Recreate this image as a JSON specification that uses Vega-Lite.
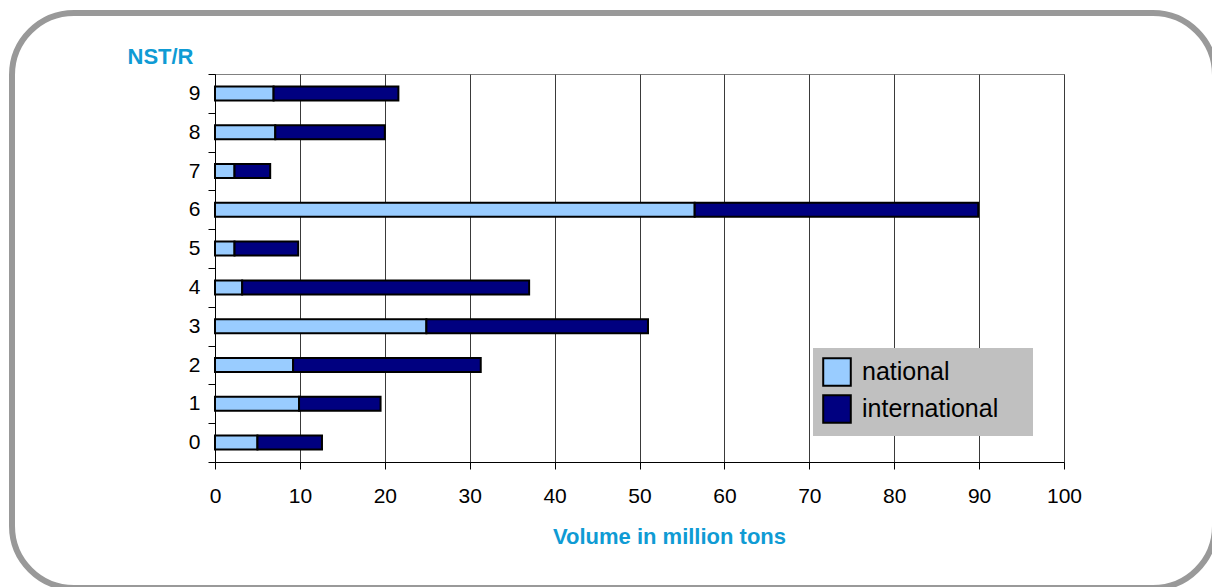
{
  "$schema": "https://vega.github.io/schema/vega-lite/v6.json",
  "autosize": {"type": "none"},
  "padding": {"left": 215, "top": 74, "right": 148, "bottom": 125},
  "width": 849,
  "height": 388,
  "background": "#ffffff",
  "config": {
    "font": "Liberation Sans",
    "view": {"stroke": "#808080", "strokeWidth": 1},
    "axis": {
      "labelFont": "Liberation Sans",
      "labelColor": "#000000",
      "labelFontSize": 21,
      "domainColor": "#000000",
      "tickColor": "#000000",
      "tickSize": 7,
      "titleFont": "Liberation Sans",
      "titleFontSize": 22,
      "titleFontWeight": "bold",
      "titleColor": "#0f9bd4"
    }
  },
  "layer": [
    {
      "data": {"values": [{}]},
      "mark": {
        "type": "rect",
        "fill": null,
        "filled": false,
        "stroke": "#999999",
        "strokeWidth": 6,
        "cornerRadius": 62
      },
      "encoding": {
        "x": {"value": -203},
        "x2": {"value": 1000},
        "y": {"value": -61},
        "y2": {"value": 514}
      }
    },
    {
      "data": {
        "values": [
          {"group": "9", "flow": "national", "volume": 6.9},
          {"group": "9", "flow": "international", "volume": 14.7},
          {"group": "8", "flow": "national", "volume": 7.1},
          {"group": "8", "flow": "international", "volume": 12.9},
          {"group": "7", "flow": "national", "volume": 2.3},
          {"group": "7", "flow": "international", "volume": 4.2},
          {"group": "6", "flow": "national", "volume": 56.5},
          {"group": "6", "flow": "international", "volume": 33.4},
          {"group": "5", "flow": "national", "volume": 2.3},
          {"group": "5", "flow": "international", "volume": 7.5},
          {"group": "4", "flow": "national", "volume": 3.2},
          {"group": "4", "flow": "international", "volume": 33.8},
          {"group": "3", "flow": "national", "volume": 24.9},
          {"group": "3", "flow": "international", "volume": 26.1},
          {"group": "2", "flow": "national", "volume": 9.2},
          {"group": "2", "flow": "international", "volume": 22.1},
          {"group": "1", "flow": "national", "volume": 9.9},
          {"group": "1", "flow": "international", "volume": 9.6},
          {"group": "0", "flow": "national", "volume": 5.0},
          {"group": "0", "flow": "international", "volume": 7.6}
        ]
      },
      "mark": {"type": "bar", "stroke": "#000000", "strokeWidth": 2, "height": {"band": 0.36}},
      "encoding": {
        "y": {
          "field": "group",
          "type": "ordinal",
          "sort": "descending",
          "scale": {"paddingInner": 0, "paddingOuter": 0},
          "axis": {
            "title": "NST/R",
            "tickBand": "extent",
            "labelPadding": 8,
            "titleAngle": 0,
            "titleAlign": "center",
            "titleBaseline": "alphabetic",
            "titleX": -55,
            "titleY": -11
          }
        },
        "x": {
          "field": "volume",
          "type": "quantitative",
          "stack": "zero",
          "scale": {"domain": [0, 100], "nice": false},
          "axis": {
            "title": "Volume in million tons",
            "values": [0, 10, 20, 30, 40, 50, 60, 70, 80, 90, 100],
            "grid": true,
            "gridColor": "#3a3a3a",
            "gridOpacity": 1,
            "labelPadding": 16,
            "labelFlush": false,
            "titleX": 454,
            "titleY": 81,
            "titleBaseline": "alphabetic",
            "titleAnchor": null,
            "titleAlign": "center"
          }
        },
        "order": {"field": "flow", "sort": "descending"},
        "color": {
          "field": "flow",
          "type": "nominal",
          "sort": ["national", "international"],
          "scale": {"domain": ["national", "international"], "range": ["#99ccff", "#000080"]},
          "legend": {
            "title": "\u2800",
            "titleOrient": "right",
            "titlePadding": 8,
            "titleFontSize": 25,
            "orient": "none",
            "legendX": 598,
            "legendY": 274,
            "fillColor": "#c0c0c0",
            "padding": 9,
            "symbolType": "square",
            "symbolSize": 760,
            "symbolStrokeColor": "#000000",
            "symbolStrokeWidth": 2,
            "symbolOpacity": 1,
            "labelFontSize": 25,
            "labelColor": "#000000",
            "labelOffset": 10,
            "labelLimit": 400,
            "rowPadding": 1
          }
        }
      }
    }
  ]
}
